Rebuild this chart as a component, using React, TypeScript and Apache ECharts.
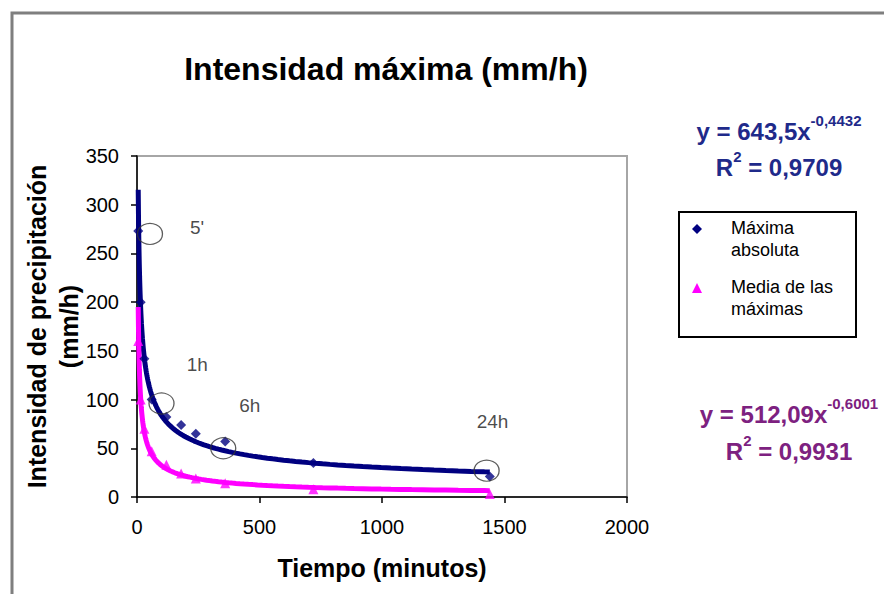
import React, { useEffect, useRef } from 'react';
import * as echarts from 'echarts';

// Durations (minutes) and intensities (mm/h)
const durations = [5, 15, 30, 60, 120, 180, 240, 360, 720, 1440];
const maximaAbsoluta = [273, 200, 142, 100, 82, 74, 65, 57, 35, 21];
const mediaMaximas = [160, 100, 70, 47, 33, 24, 19, 14, 8, 3];

// Power trendlines shown in the chart: y = a * x^b
const trendMaxA = 643.5;
const trendMaxB = -0.4432;
const trendMediaA = 512.09;
const trendMediaB = -0.6001;
const trendFrom = 5;
const trendTo = 1440;

// Annotations (circled points and their labels)
const circleX = [53, 100, 352, 1427];
const circleY = [270, 96, 50, 27];
const labelText = ["5'", '1h', '6h', '24h'];
const labelX = [245, 246, 460, 1451];
const labelY = [277, 136, 94, 78];

const xTicks = [0, 500, 1000, 1500, 2000];
const yTicks = [0, 50, 100, 150, 200, 250, 300, 350];

const FONT = '"Liberation Sans", Arial, Helvetica, sans-serif';
const NAVY = '#000080';
const MAGENTA = '#FF00FF';

function trendPoints(a: number, b: number): number[][] {
  const pts: number[][] = [];
  let x = trendFrom;
  while (x < trendTo) {
    pts.push([x, a * Math.pow(x, b)]);
    x *= 1.04;
  }
  pts.push([trendTo, a * Math.pow(trendTo, b)]);
  return pts;
}

export default function App() {
  const ref = useRef<HTMLDivElement>(null);

  useEffect(() => {
    if (!ref.current) return;
    const chart = echarts.init(ref.current, undefined, { renderer: 'svg' });

    const option: any = {
      animation: false,
      backgroundColor: '#ffffff',
      title: {
        text: 'Intensidad máxima (mm/h)',
        left: 381,
        top: 48,
        textAlign: 'center',
        textStyle: { fontFamily: FONT, fontSize: 32, fontWeight: 'bold', color: '#000' },
      },
      grid: {
        left: 137,
        right: 257,
        top: 156,
        bottom: 97,
        show: true,
        borderColor: '#a6a6a6',
        borderWidth: 2,
        backgroundColor: 'transparent',
      },
      xAxis: {
        type: 'value',
        min: xTicks[0],
        max: xTicks[xTicks.length - 1],
        interval: 500,
        name: 'Tiempo (minutos)',
        nameLocation: 'middle',
        nameGap: 58,
        nameMoveOverlap: false,
        nameTextStyle: { fontFamily: FONT, fontSize: 25, fontWeight: 'bold', color: '#000' },
        axisLine: { show: true, lineStyle: { color: '#000', width: 1.5 } },
        axisTick: { show: true, inside: false, length: 6, lineStyle: { color: '#000', width: 1.5 } },
        axisLabel: { fontFamily: FONT, fontSize: 20, color: '#000', margin: 20, formatter: (v: number) => String(v) },
        splitLine: { show: false },
      },
      yAxis: {
        type: 'value',
        min: yTicks[0],
        max: yTicks[yTicks.length - 1],
        interval: 50,
        name: 'Intensidad de precipitación\n(mm/h)',
        nameLocation: 'middle',
        nameRotate: 90,
        nameGap: 52,
        nameMoveOverlap: false,
        nameTextStyle: { fontFamily: FONT, fontSize: 25, fontWeight: 'bold', color: '#000', lineHeight: 32 },
        axisLine: { show: true, lineStyle: { color: '#000', width: 1.5 } },
        axisTick: { show: true, inside: false, length: 6, lineStyle: { color: '#000', width: 1.5 } },
        axisLabel: { fontFamily: FONT, fontSize: 20, color: '#000', margin: 18, formatter: (v: number) => String(v) },
        splitLine: { show: false },
      },
      series: [
        {
          name: 'Tendencia máxima absoluta',
          type: 'line',
          data: trendPoints(trendMaxA, trendMaxB),
          showSymbol: false,
          symbol: 'none',
          lineStyle: { color: NAVY, width: 5 },
          z: 2,
        },
        {
          name: 'Tendencia media de las máximas',
          type: 'line',
          data: trendPoints(trendMediaA, trendMediaB),
          showSymbol: false,
          symbol: 'none',
          lineStyle: { color: MAGENTA, width: 5 },
          z: 2,
        },
        {
          name: 'Máxima absoluta',
          type: 'scatter',
          data: durations.map((d, i) => [d, maximaAbsoluta[i]]),
          symbol: 'diamond',
          symbolSize: 10,
          itemStyle: { color: NAVY },
          z: 3,
        },
        {
          name: 'Media de las máximas',
          type: 'scatter',
          data: durations.map((d, i) => [d, mediaMaximas[i]]),
          symbol: 'triangle',
          symbolSize: 10,
          itemStyle: { color: MAGENTA },
          z: 3,
        },
        {
          name: 'Círculos',
          type: 'scatter',
          data: circleX.map((x, i) => [x, circleY[i]]),
          symbol: 'circle',
          symbolSize: [25, 21],
          itemStyle: { color: 'rgba(0,0,0,0)', borderColor: '#333', borderWidth: 1.2 },
          z: 4,
        },
        {
          name: 'Etiquetas',
          type: 'scatter',
          data: labelX.map((x, i) => ({ value: [x, labelY[i]], name: labelText[i] })),
          symbolSize: 0,
          label: {
            show: true,
            position: 'inside',
            formatter: (p: any) => p.name,
            fontFamily: FONT,
            fontSize: 19,
            color: '#1a1a1a',
          },
          z: 5,
        },
      ],
      graphic: [
        {
          type: 'rect',
          shape: { x: 12, y: 13, width: 1000, height: 1000 },
          style: { fill: 'none', stroke: '#7f7f7f', lineWidth: 3 },
          silent: true,
        },
        {
          type: 'text',
          x: 779,
          y: 113,
          style: {
            text: '{a|y = 643,5x}{s|-0,4432}\n{a|R}{s|2}{a| = 0,9709}',
            align: 'center',
            rich: {
              a: { fontFamily: FONT, fontSize: 24, fontWeight: 'bold', fill: '#1F2A8A', lineHeight: 36 },
              s: { fontFamily: FONT, fontSize: 15, fontWeight: 'bold', fill: '#1F2A8A', verticalAlign: 'top', lineHeight: 36 },
            },
          },
        },
        {
          type: 'text',
          x: 789,
          y: 396,
          style: {
            text: '{a|y = 512,09x}{s|-0,6001}\n{a|R}{s|2}{a| = 0,9931}',
            align: 'center',
            rich: {
              a: { fontFamily: FONT, fontSize: 24, fontWeight: 'bold', fill: '#7D2180', lineHeight: 37 },
              s: { fontFamily: FONT, fontSize: 15, fontWeight: 'bold', fill: '#7D2180', verticalAlign: 'top', lineHeight: 37 },
            },
          },
        },
        {
          type: 'rect',
          shape: { x: 679, y: 212, width: 177, height: 125 },
          style: { fill: '#fff', stroke: '#000', lineWidth: 2 },
        },
        {
          type: 'polygon',
          shape: { points: [[697, 224], [702, 229], [697, 234], [692, 229]] },
          style: { fill: NAVY },
        },
        {
          type: 'text',
          x: 731,
          y: 217,
          style: { text: 'Máxima\nabsoluta', fontFamily: FONT, fontSize: 18, fill: '#000', lineHeight: 22 },
        },
        {
          type: 'polygon',
          shape: { points: [[697, 283], [702, 293], [692, 293]] },
          style: { fill: MAGENTA },
        },
        {
          type: 'text',
          x: 731,
          y: 276,
          style: { text: 'Media de las\nmáximas', fontFamily: FONT, fontSize: 18, fill: '#000', lineHeight: 22 },
        },
      ],
    };

    chart.setOption(option);
    return () => chart.dispose();
  }, []);

  return (
    <div
      ref={ref}
      style={{ position: 'fixed', left: 0, top: 0, width: 884, height: 594, background: '#fff' }}
    />
  );
}
